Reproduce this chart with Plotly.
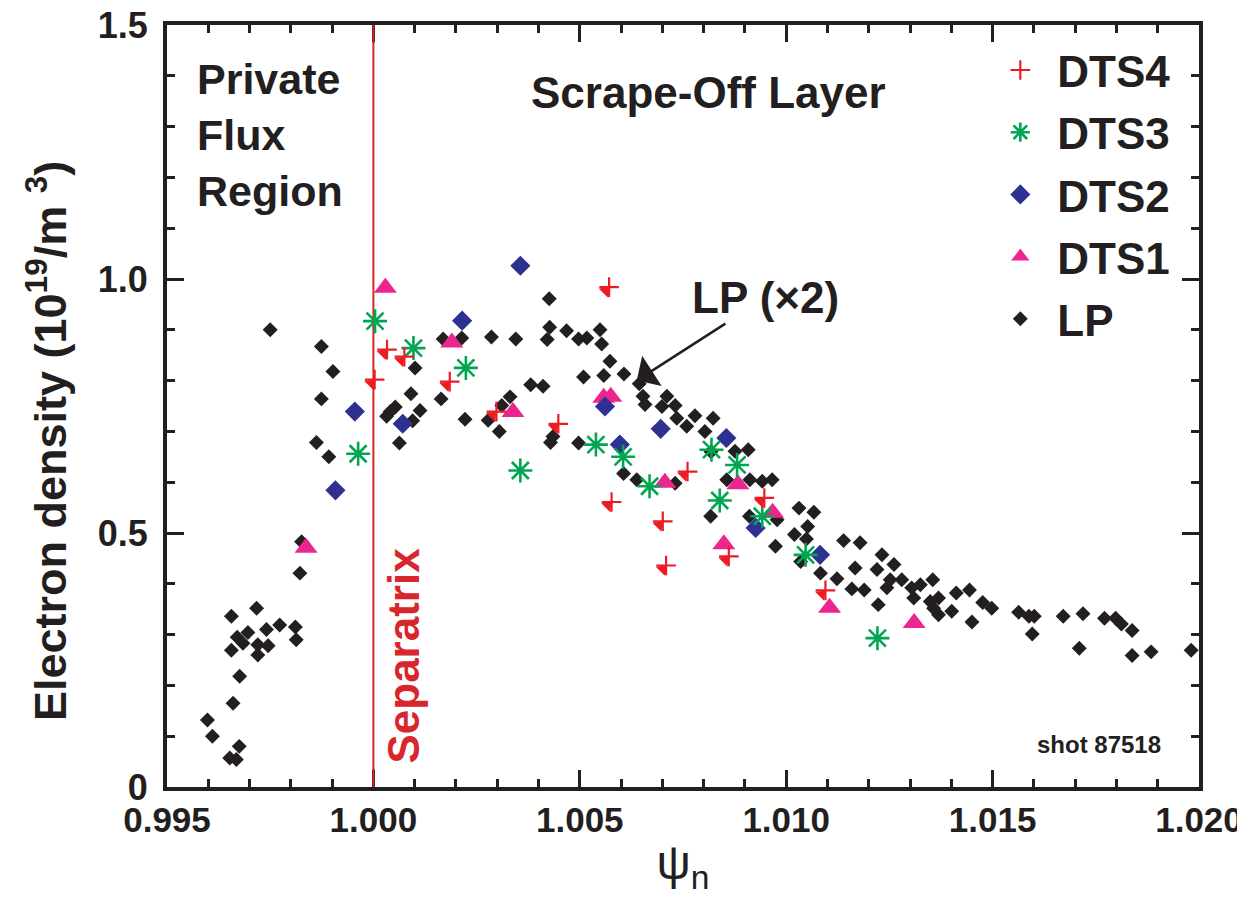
import plotly.graph_objects as go

FONT = "Liberation Sans, Arial, Helvetica, sans-serif"
INK = "#231F20"
RED = "#ED1C24"
GREEN = "#00A651"
NAVY = "#2E3192"
MAGENTA = "#EC268F"
SEP_RED = "#D7262C"

# ---------------- data (psi_n, electron density in 1e19 m^-3) ----------------
lp_psi = [
    0.99656, 0.99717, 0.99773, 0.99811, 0.99813, 0.99741, 0.99696, 0.99670, 0.99684, 0.99656,
    0.99720, 0.99745, 0.99720, 0.99676, 0.99660, 0.99598, 0.99610, 0.99675, 0.99652, 0.99668,
    0.99822, 0.99826, 0.99750, 0.99874, 0.99902, 0.99874, 0.99862, 0.99892, 1.00169, 1.00214,
    1.00101, 1.00091, 1.00164, 1.00053, 1.00032, 1.00113, 1.00095, 1.00222, 1.00063, 1.00041,
    1.00426, 1.00427, 1.00468, 1.00421, 1.00497, 1.00517, 1.00549, 1.00553, 1.00286, 1.00345,
    1.00573, 1.00509, 1.00558, 1.00607, 1.00644, 1.00381, 1.00411, 1.00331, 1.00311, 1.00653,
    1.00658, 1.00711, 1.00699, 1.00731, 1.00735, 1.00759, 1.00779, 1.00823, 1.00803, 1.00278,
    1.00305, 1.00435, 1.00429, 1.00497, 1.00606, 1.00638, 1.00731, 1.00856, 1.00876, 1.00908,
    1.00912, 1.00942, 1.00966, 1.00817, 1.00911, 1.00974, 1.00818, 1.00978, 1.01031, 1.01067,
    1.01052, 1.01020, 1.01049, 1.01035, 1.01083, 1.01123, 1.01139, 1.01179, 1.01232, 1.01167,
    1.01220, 1.01261, 1.01252, 1.01280, 1.01244, 1.01159, 1.01189, 1.01304, 1.01325, 1.01309,
    1.01355, 1.01223, 1.01349, 1.01369, 1.01357, 1.01369, 1.01401, 1.01412, 1.01444, 1.01450,
    1.01476, 1.01498, 1.01563, 1.01588, 1.01601, 1.01596, 1.01671, 1.01719, 1.01710, 1.01771,
    1.01798, 1.01812, 1.01838, 1.01838, 1.01884, 1.01981,
]
lp_ne = [
    0.336, 0.352, 0.319, 0.315, 0.290, 0.310, 0.304, 0.295, 0.283, 0.269,
    0.280, 0.278, 0.260, 0.218, 0.165, 0.132, 0.100, 0.080, 0.057, 0.054,
    0.421, 0.483, 0.900, 0.867, 0.818, 0.764, 0.678, 0.650, 0.882, 0.884,
    0.825, 0.774, 0.764, 0.748, 0.730, 0.741, 0.721, 0.724, 0.677, 0.739,
    0.961, 0.905, 0.898, 0.881, 0.882, 0.884, 0.900, 0.872, 0.886, 0.882,
    0.838, 0.807, 0.810, 0.813, 0.794, 0.792, 0.789, 0.768, 0.751, 0.769,
    0.753, 0.769, 0.749, 0.751, 0.726, 0.710, 0.731, 0.726, 0.700, 0.722,
    0.700, 0.690, 0.678, 0.677, 0.617, 0.605, 0.598, 0.605, 0.661, 0.664,
    0.605, 0.602, 0.605, 0.533, 0.533, 0.474, 0.660, 0.526, 0.549, 0.541,
    0.513, 0.497, 0.488, 0.444, 0.421, 0.410, 0.485, 0.481, 0.457, 0.431,
    0.428, 0.438, 0.408, 0.408, 0.392, 0.390, 0.388, 0.392, 0.398, 0.372,
    0.408, 0.359, 0.365, 0.372, 0.352, 0.339, 0.346, 0.382, 0.388, 0.325,
    0.363, 0.352, 0.344, 0.336, 0.336, 0.301, 0.336, 0.341, 0.273, 0.332,
    0.332, 0.321, 0.308, 0.259, 0.266, 0.269,
]

dts4_psi = [1.00003, 1.00033, 1.00075, 1.00185, 1.00571, 1.00298, 1.00448,
            1.00577, 1.00761, 1.00701, 1.00947, 1.00861, 1.01095, 1.00709]
dts4_ne = [0.802, 0.861, 0.847, 0.798, 0.984, 0.739, 0.715,
           0.561, 0.621, 0.523, 0.569, 0.454, 0.387, 0.436]

dts3_psi = [1.00004, 1.00097, 1.00224, 0.99963, 1.00356, 1.00539, 1.00605,
            1.00669, 1.00819, 1.00881, 1.00839, 1.00942, 1.01047, 1.01221]
dts3_ne = [0.917, 0.864, 0.825, 0.656, 0.623, 0.674, 0.650,
           0.592, 0.664, 0.634, 0.564, 0.533, 0.457, 0.293]

dts2_psi = [0.99955, 1.00071, 1.00215, 0.99908, 1.00356, 1.00561, 1.00696,
            1.00597, 1.00855, 1.00926, 1.01082]
dts2_ne = [0.739, 0.715, 0.918, 0.584, 1.026, 0.749, 0.705,
           0.674, 0.687, 0.510, 0.457]

dts1_psi = [1.00029, 1.00190, 0.99837, 1.00338, 1.00558, 1.00575, 1.00706,
            1.00883, 1.00967, 1.00849, 1.01105, 1.01310]
dts1_ne = [0.983, 0.875, 0.471, 0.738, 0.766, 0.768, 0.599,
           0.596, 0.540, 0.478, 0.353, 0.323]

SEPARATRIX_PSI = 1.000
LP_ARROW_PSI, LP_ARROW_NE = 1.00638, 0.800

x_ticks = [0.995, 1.000, 1.005, 1.010, 1.015, 1.020]
x_ticktext = ["0.995", "1.000", "1.005", "1.010", "1.015", "1.020"]
y_ticks = [0, 0.5, 1.0, 1.5]
y_ticktext = ["0", "0.5", "1.0", "1.5"]

# ---------------- figure ----------------
fig = go.Figure()

fig.add_trace(go.Scatter(
    x=lp_psi, y=lp_ne, mode="markers", name="LP", legendrank=5, legendgroup="lp",
    marker=dict(symbol="diamond", size=11.5, color=INK, line=dict(width=0)),
))
fig.add_trace(go.Scatter(
    x=dts1_psi, y=dts1_ne, mode="markers", name="DTS1", legendrank=4, legendgroup="d1",
    marker=dict(symbol="triangle-up", size=20, color=MAGENTA, line=dict(width=0)),
))
fig.add_trace(go.Scatter(
    x=dts2_psi, y=dts2_ne, mode="markers", name="DTS2", legendrank=3, legendgroup="d2",
    marker=dict(symbol="diamond", size=15.5, color=NAVY, line=dict(width=0)),
))
fig.add_trace(go.Scatter(
    x=dts3_psi, y=dts3_ne, mode="markers", name="DTS3", legendrank=2, legendgroup="d3",
    marker=dict(symbol="asterisk-open", size=20, color=GREEN,
                line=dict(width=2.6, color=GREEN)),
))
# DTS4: thin cross with a small filled triangle in its lower-left quadrant
fig.add_trace(go.Scatter(
    x=dts4_psi, y=dts4_ne, mode="markers", name="DTS4", showlegend=False,
    legendgroup="d4",
    marker=dict(symbol="triangle-up", size=11, angle=45, standoff=5.5,
                color=RED, line=dict(width=0)),
))
fig.add_trace(go.Scatter(
    x=dts4_psi, y=dts4_ne, mode="markers", name="DTS4", legendrank=1,
    legendgroup="d4",
    marker=dict(symbol="cross-thin-open", size=14, color=RED,
                line=dict(width=2.2, color=RED)),
))

# separatrix line (under the markers), with short pieces over the tick marks
fig.add_shape(type="line", xref="x", yref="paper",
              x0=SEPARATRIX_PSI, x1=SEPARATRIX_PSI, y0=0, y1=1,
              line=dict(color=SEP_RED, width=2), layer="below")
for y0, y1 in [(0, 0.024), (0.976, 1)]:
    fig.add_shape(type="line", xref="x", yref="paper",
                  x0=SEPARATRIX_PSI, x1=SEPARATRIX_PSI, y0=y0, y1=y1,
                  line=dict(color=SEP_RED, width=2), layer="above")

bold = dict(family=FONT, color=INK, weight="bold")

fig.add_annotation(x=0.99568, y=1.284, xref="x", yref="y",
                   text="Private<br>Flux<br>Region", showarrow=False,
                   xanchor="left", yanchor="middle", align="left",
                   font=dict(size=43, **bold))
fig.add_annotation(x=1.00811, y=1.368, xref="x", yref="y",
                   text="Scrape-Off Layer", showarrow=False,
                   xanchor="center", yanchor="middle",
                   font=dict(size=44, **bold))
fig.add_annotation(x=LP_ARROW_PSI, y=LP_ARROW_NE, xref="x", yref="y",
                   text="LP (\u00d72)", showarrow=True, ax=129, ay=-83,
                   arrowhead=1, arrowsize=2.4, arrowwidth=2.5, arrowcolor=INK,
                   font=dict(size=44, **bold))
fig.add_annotation(x=1.01912, y=0.0836, xref="x", yref="y",
                   text="shot 87518", showarrow=False,
                   xanchor="right", yanchor="middle",
                   font=dict(size=24, **bold))
fig.add_annotation(x=1.00072, y=0.259, xref="x", yref="y",
                   text="Separatrix", showarrow=False, textangle=-90,
                   xanchor="center", yanchor="middle",
                   font=dict(size=44, family=FONT, color=SEP_RED, weight="bold"))
# y-axis title (placed as text so it can sit a little below the axis centre)
fig.add_annotation(x=-0.1163, y=0.454, xref="paper", yref="paper",
                   text="Electron density (10<sup>19</sup>/m <sup>3</sup>)",
                   showarrow=False, textangle=-90,
                   xanchor="center", yanchor="middle",
                   font=dict(size=45, **bold))

axis_common = dict(
    showline=True, linewidth=4, linecolor=INK, mirror="allticks",
    ticks="inside", tickwidth=3, tickcolor=INK, ticklen=17,
    showgrid=False, zeroline=False, automargin=False,
    ticklabeloverflow="allow",
)

fig.update_xaxes(
    range=[0.995, 1.020], tickvals=x_ticks, ticktext=x_ticktext,
    ticklabelstandoff=-1, tickfont=dict(size=35, **bold),
    minor=dict(ticks="inside", dtick=0.001, tick0=0.995, ticklen=8,
               tickwidth=3, tickcolor=INK, showgrid=False),
    title=dict(text="\u03c8<sub>n</sub>", font=dict(size=48, family=FONT, color=INK),
               standoff=8),
    **axis_common,
)
fig.update_yaxes(
    range=[0, 1.5], tickvals=y_ticks, ticktext=y_ticktext,
    ticklabelstandoff=8, tickfont=dict(size=36, **bold),
    minor=dict(ticks="inside", dtick=0.1, tick0=0, ticklen=8,
               tickwidth=3, tickcolor=INK, showgrid=False),
    **axis_common,
)

# the page adds an 8 px body margin, so the figure is 8 px smaller and
# its margins are offset to land the frame where the reference has it
fig.update_layout(
    width=1237, height=905,
    margin=dict(l=159, r=46, t=17, b=126, autoexpand=False),
    paper_bgcolor="white", plot_bgcolor="white",
    font=dict(family=FONT, color=INK),
    showlegend=True,
    legend=dict(x=0.791, y=0.987, xanchor="left", yanchor="top",
                bgcolor="rgba(0,0,0,0)", borderwidth=0,
                font=dict(size=44, **bold), itemwidth=64,
                traceorder="grouped", tracegroupgap=2),
)

fig.write_html("out.html")
